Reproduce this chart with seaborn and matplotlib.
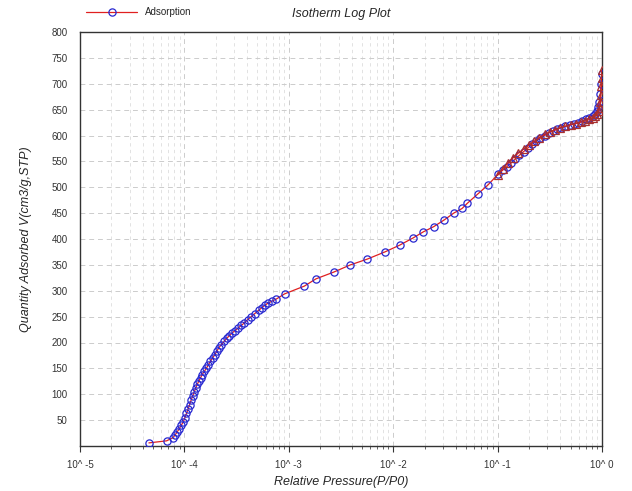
import numpy as np
import pandas as pd
import matplotlib
matplotlib.use("Agg")
import matplotlib.pyplot as plt
import matplotlib.ticker as mticker
import seaborn as sns

# adsorption branch: relative pressure P/P0 and quantity adsorbed
ads_p = [4.57e-5, 6.76e-5, 7.76e-5, 8.13e-5, 8.51e-5, 8.91e-5, 9.33e-5, 9.77e-5,
         1.012e-4, 1.047e-4, 1.084e-4, 1.122e-4, 1.161e-4, 1.202e-4, 1.245e-4,
         1.288e-4, 1.334e-4, 1.380e-4, 1.429e-4, 1.479e-4, 1.549e-4, 1.622e-4,
         1.698e-4, 1.778e-4, 1.862e-4, 1.950e-4, 2.042e-4, 2.138e-4, 2.265e-4,
         2.399e-4, 2.541e-4, 2.692e-4, 2.851e-4, 3.055e-4, 3.273e-4, 3.508e-4,
         3.76e-4, 4.03e-4, 4.37e-4, 4.73e-4, 5.13e-4, 5.50e-4, 5.89e-4, 6.31e-4,
         6.92e-4, 7.59e-4, 9.12e-4, 1.41e-3, 1.82e-3, 2.69e-3, 3.89e-3, 5.62e-3,
         8.32e-3, 1.15e-2, 1.55e-2, 1.95e-2, 2.45e-2, 3.09e-2, 3.80e-2, 4.57e-2,
         5.13e-2, 6.46e-2, 8.04e-2, 0.102, 0.112, 0.123, 0.135, 0.148, 0.162,
         0.178, 0.195, 0.214, 0.234, 0.257, 0.282, 0.309, 0.339, 0.372, 0.407,
         0.447, 0.490, 0.537, 0.589, 0.646, 0.708, 0.759, 0.813, 0.851, 0.891,
         0.923, 0.944, 0.966, 0.982, 0.991]
ads_v = [6, 10, 16, 21, 27, 33, 40, 47,
         55, 63, 71, 80, 89, 97, 105,
         113, 120, 126, 132, 138, 144, 150,
         157, 164, 170, 176, 183, 190, 196,
         202, 208, 213, 218, 223, 228, 233,
         238, 244, 250, 256, 262, 267, 272, 276,
         280, 284, 294, 309, 323, 336, 350, 361,
         375, 388, 402, 414, 424, 437, 450, 459,
         469, 487, 504, 526, 533, 540, 547, 555, 562,
         569, 576, 583, 589, 595, 600, 605, 609, 612, 615,
         618, 620, 623, 625, 628, 631, 634, 638, 642, 648,
         656, 665, 680, 700, 718]

# desorption branch
des_p = [0.995, 0.991, 0.986, 0.977, 0.966, 0.951, 0.933, 0.902, 0.861, 0.813,
         0.759, 0.692, 0.631, 0.562, 0.501, 0.447, 0.398, 0.355, 0.316, 0.282,
         0.251, 0.224, 0.200, 0.178, 0.158, 0.141, 0.126, 0.112, 0.100]
des_v = [727, 712, 695, 678, 664, 654, 647, 641, 637, 634,
         631, 628, 626, 623, 621, 618, 615, 611, 607, 602,
         596, 589, 582, 574, 566, 557, 547, 536, 523]

x_ticks = [1e-5, 1e-4, 1e-3, 1e-2, 1e-1, 1e0]
x_labels = ["10^ -5", "10^ -4", "10^ -3", "10^ -2", "10^ -1", "10^ 0"]
y_ticks = list(range(50, 801, 50))

ads = pd.DataFrame({"p": ads_p, "v": ads_v})
des = pd.DataFrame({"p": des_p, "v": des_v})

sns.set_style("white")
plt.rcParams["font.family"] = ["Liberation Sans", "DejaVu Sans"]

fig = plt.figure(figsize=(6.32, 4.91), dpi=100)
ax = fig.add_axes([80 / 632, 45 / 491, 522 / 632, 414 / 491])

sns.lineplot(data=ads, x="p", y="v", ax=ax, color="#e02020", lw=0.9,
             marker="o", markersize=5.2, markerfacecolor="none",
             markeredgecolor="#2828d0", markeredgewidth=0.9,
             estimator=None, sort=False, label="Adsorption", zorder=3)
sns.lineplot(data=des, x="p", y="v", ax=ax, color="#d02020", lw=0.9,
             marker="^", markersize=5.2, markerfacecolor="none",
             markeredgecolor="#a83030", markeredgewidth=0.9,
             estimator=None, sort=False, legend=False, zorder=3)

ax.set_xscale("log")
ax.set_xlim(1e-5, 1)
ax.set_ylim(0, 800)
ax.set_xticks(x_ticks)
ax.set_xticklabels(x_labels)
ax.xaxis.set_minor_locator(mticker.LogLocator(base=10, subs=np.arange(2, 10)))
ax.xaxis.set_minor_formatter(mticker.NullFormatter())
ax.set_yticks(y_ticks)

ax.grid(True, which="major", axis="both", color="#cccccc", ls=(0, (5, 4)), lw=0.7)
ax.grid(True, which="minor", axis="x", color="#dddddd", ls=(0, (4, 4)), lw=0.6)
ax.set_axisbelow(True)

ax.tick_params(axis="x", which="major", direction="out", length=4, width=0.8,
               labelsize=7, pad=6, colors="#333333", bottom=True)
ax.tick_params(axis="x", which="minor", direction="out", length=2, width=0.5,
               bottom=True)
ax.tick_params(axis="y", which="major", length=0, labelsize=7, pad=9,
               colors="#333333")

for s in ax.spines.values():
    s.set_color("#333333")
    s.set_linewidth(1.0)

ax.set_xlabel("Relative Pressure(P/P0)", fontsize=9, style="italic")
ax.xaxis.set_label_coords(0.5, -(476 - 446) / 414)
ax.set_ylabel("Quantity Adsorbed V(cm3/g,STP)", fontsize=9, style="italic", labelpad=14)
ax.set_title("Isotherm Log Plot", fontsize=9, style="italic", pad=11)

leg = ax.legend(loc="lower left", bbox_to_anchor=(0.005, 1.026), frameon=False,
                fontsize=7, handlelength=5.2, borderaxespad=0, handletextpad=0.8)

fig.savefig("out.png", dpi=100)
